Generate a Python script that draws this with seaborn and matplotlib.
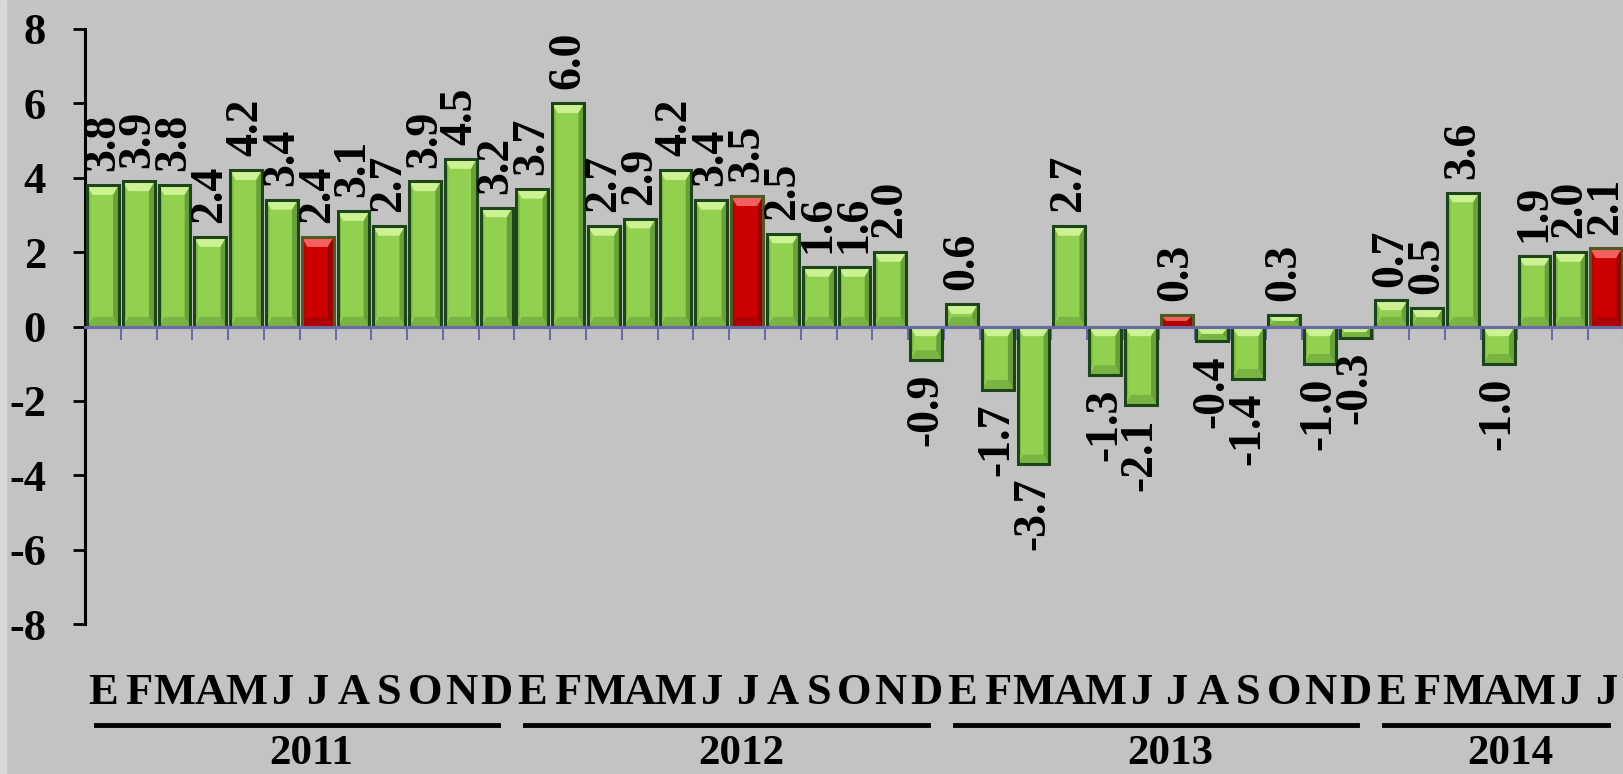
import numpy as np
import pandas as pd
import matplotlib
matplotlib.use("Agg")
import matplotlib.pyplot as plt
import matplotlib.transforms as mtransforms
from matplotlib.patches import Polygon, Rectangle
from matplotlib.lines import Line2D
import seaborn as sns

# monthly values (%), Jan 2011 .. Jul 2014
V_2011 = [3.8, 3.9, 3.8, 2.4, 4.2, 3.4, 2.4, 3.1, 2.7, 3.9, 4.5, 3.2]
V_2012 = [3.7, 6.0, 2.7, 2.9, 4.2, 3.4, 3.5, 2.5, 1.6, 1.6, 2.0, -0.9]
V_2013 = [0.6, -1.7, -3.7, 2.7, -1.3, -2.1, 0.3, -0.4, -1.4, 0.3, -1.0, -0.3]
V_2014 = [0.7, 0.5, 3.6, -1.0, 1.9, 2.0, 2.1]
ANIOS = ["2011", "2012", "2013", "2014"]
MESES = ["E", "F", "M", "A", "M", "J", "J", "A", "S", "O", "N", "D"]
Y_TICKS = [-8, -6, -4, -2, 0, 2, 4, 6, 8]
MES_RESALTADO = 7  # July bars are red

BG = "#C3C3C3"
GREEN, GREEN_HI, GREEN_DK, GREEN_EDGE = "#92D050", "#CDF294", "#4F8228", "#1C451C"
RED, RED_HI, RED_DK, RED_EDGE = "#CC0000", "#F26060", "#7A0000", "#4F5A22"
AXIS_BLUE = "#6A6AA8"

plt.rcParams["font.family"] = ["Liberation Serif", "DejaVu Serif"]
plt.rcParams["font.weight"] = "bold"
plt.rcParams["axes.unicode_minus"] = False
FS = 32
FS_LBL = 33

# build table
rows = []
for anio, vals in zip(ANIOS, [V_2011, V_2012, V_2013, V_2014]):
    for m, v in enumerate(vals):
        rows.append({"pos": f"{anio}-{m + 1:02d}", "anio": anio, "mes": MESES[m],
                     "valor": v, "tipo": "julio" if m + 1 == MES_RESALTADO else "otro"})
df = pd.DataFrame(rows)
n = len(df)

fig = plt.figure(figsize=(16.24, 7.74), dpi=100, facecolor=BG)
fig.patches.append(Rectangle((0, 0), 6 / 1624, 1, transform=fig.transFigure,
                             color="#DADADA", zorder=0))
ax = fig.add_axes([85 / 1624, 1 - 624 / 774, 1 - 85 / 1624, (624 - 29) / 774])
ax.set_facecolor(BG)

sns.barplot(data=df, x="pos", y="valor", hue="tipo", dodge=False, legend=False,
            palette={"otro": GREEN, "julio": RED}, width=0.89, saturation=1,
            ax=ax, zorder=2)

# bevel look for each bar (patches come grouped by hue, so sort by position)
bars = sorted(ax.patches, key=lambda p: p.get_x())
for p, tipo in zip(bars, df["tipo"]):
    hi, dk, edge = (RED_HI, RED_DK, RED_EDGE) if tipo == "julio" else (GREEN_HI, GREEN_DK, GREEN_EDGE)
    x0, w = p.get_x(), p.get_width()
    y0, h = p.get_y(), p.get_height()
    lo, up = min(y0, y0 + h), max(y0, y0 + h)
    x1 = x0 + w
    dx = 0.16
    dy = min(0.26, (up - lo) / 2)
    ax.add_patch(Polygon([(x0, up), (x1, up), (x1 - dx, up - dy), (x0 + dx, up - dy)],
                         closed=True, facecolor=hi, edgecolor="none", zorder=3))
    ax.add_patch(Polygon([(x1, up), (x1, lo), (x1 - dx, lo + dy), (x1 - dx, up - dy)],
                         closed=True, facecolor=dk, edgecolor="none", zorder=3, alpha=0.6))
    ax.add_patch(Polygon([(x0, up), (x0, lo), (x0 + dx * 0.6, lo + dy), (x0 + dx * 0.6, up - dy)],
                         closed=True, facecolor=dk, edgecolor="none", zorder=3, alpha=0.3))
    ax.add_patch(Polygon([(x0, lo), (x1, lo), (x1 - dx, lo + dy), (x0 + dx, lo + dy)],
                         closed=True, facecolor=dk, edgecolor="none", zorder=3, alpha=0.35))
    ax.add_patch(Rectangle((x0, lo), w, up - lo, fill=False, edgecolor=edge,
                           linewidth=2.2, zorder=4))
    p.set_edgecolor("none")

# value labels
for i, v in enumerate(df["valor"]):
    ax.annotate(f"{v:.1f}", (i, v), xytext=(0, 10 if v >= 0 else -10),
                textcoords="offset points", rotation=90, ha="center",
                va="bottom" if v >= 0 else "top", fontsize=FS_LBL, fontweight="bold",
                zorder=6)

# axes styling
ax.set_ylim(-8, 8)
ax.set_xlim(-0.5, 42.44)
ax.set_yticks(Y_TICKS)
ax.set_yticklabels([str(t) for t in Y_TICKS], fontsize=FS, fontweight="bold")
ax.tick_params(axis="y", direction="out", length=9, width=2, pad=19, colors="black")
ax.set_xticks(np.arange(n + 1) - 0.5)
ax.set_xticklabels([])
ax.tick_params(axis="x", direction="out", length=9.5, width=1.5, colors=AXIS_BLUE)
ax.spines["bottom"].set_position(("data", 0))
ax.spines["bottom"].set_color(AXIS_BLUE)
ax.spines["bottom"].set_linewidth(2.2)
ax.spines["bottom"].set_zorder(5)
ax.spines["left"].set_linewidth(2.2)
ax.spines["left"].set_color("black")
ax.spines["top"].set_visible(False)
ax.spines["right"].set_visible(False)
ax.set_xlabel("")
ax.set_ylabel("")
ax.grid(False)

# month letters and year groups below the plot
tr = mtransforms.blended_transform_factory(ax.transData, fig.transFigure)
for i, mes in enumerate(df["mes"]):
    ax.text(i, 1 - 693 / 774, mes, transform=tr, ha="center", va="center",
            fontsize=FS, fontweight="bold", clip_on=False)
for anio in ANIOS:
    idx = np.flatnonzero(df["anio"].to_numpy() == anio)
    a, b = idx[0] - 0.2, idx[-1] + 0.05
    ax.add_line(Line2D([a, b], [1 - 725 / 774] * 2, transform=tr, color="black",
                       linewidth=3.5, clip_on=False))
    ax.text((a + b) / 2 + 0.4, 1 - 754 / 774, anio, transform=tr, ha="center", va="center",
            fontsize=31, fontweight="bold", clip_on=False)

fig.savefig("out.png", dpi=100, facecolor=BG)
